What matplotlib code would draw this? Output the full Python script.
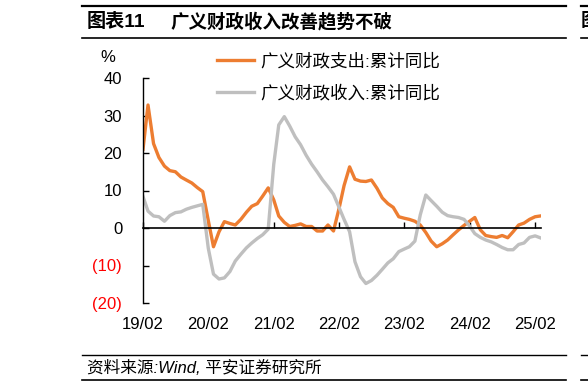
import matplotlib
matplotlib.use("Agg")
import matplotlib.pyplot as plt
import matplotlib.lines as mlines
import pandas as pd

plt.rcParams['font.family'] = ['Liberation Sans', 'Noto Sans CJK SC']
plt.rcParams['axes.unicode_minus'] = False

# 月度数据 19/02 - 25/03
spend = [21, 32.8, 22.5, 18.8, 16.5, 15.3, 15.0, 13.6, 12.8, 12.0, 10.8, 9.7,
         2.0, -5.0, -1.0, 1.7, 1.2, 0.8, 2.3, 4.2, 5.8, 6.5, 8.5, 10.7,
         7.5, 3.2, 1.5, 0.4, 0.7, 1.1, 0.4, 0.4, -0.8, -0.8, 0.8, -0.8,
         5.2, 11.3, 16.3, 13.0, 12.5, 12.4, 12.8, 10.6, 8.0, 6.5, 5.5, 3.0,
         2.6, 2.3, 1.8, 0.8, -1.2, -3.5, -5.0, -4.2, -3.2, -1.8, -0.5, 0.7,
         1.8, 2.8, -0.5, -2.0, -2.3, -2.5, -2.0, -2.6, -1.0, 0.8, 1.3, 2.3,
         3.0, 3.2]
revenue = [8.4, 4.5, 3.2, 3.0, 1.8, 3.3, 4.1, 4.3, 5.0, 5.5, 5.9, 6.3,
           -5.4, -12.3, -13.6, -13.3, -11.6, -8.8, -7.0, -5.3, -4.0, -2.8, -1.8, -0.3,
           17.0, 27.5, 29.7, 27.2, 24.3, 22.2, 19.4, 17.0, 15.0, 12.8, 11.0, 9.0,
           5.5, 2.3, -1.0, -9.0, -13.0, -14.8, -14.0, -12.6, -11.0, -9.3, -8.2, -6.3,
           -5.6, -5.0, -3.5, 3.5, 8.8, 7.3, 5.8, 4.2, 3.3, 3.0, 2.8, 2.3,
           0.5, -1.5, -2.5, -3.2, -3.7, -4.4, -5.2, -5.8, -5.8, -4.4, -4.0, -2.5,
           -2.1, -2.6]
months = pd.date_range("2019-02-01", periods=len(spend), freq="MS")

xtick_dates = pd.to_datetime(["2019-02-01", "2020-02-01", "2021-02-01", "2022-02-01",
                              "2023-02-01", "2024-02-01", "2025-02-01"])
xtick_labels = ["19/02", "20/02", "21/02", "22/02", "23/02", "24/02", "25/02"]
ytick_vals = [-20, -10, 0, 10, 20, 30, 40]
ytick_labels = ["(20)", "(10)", "0", "10", "20", "30", "40"]

W, H = 588, 386
fig = plt.figure(figsize=(5.88, 3.86), dpi=100)
ax = fig.add_axes([143 / W, 1 - 303 / H, (541 - 143) / W, 225 / H])

ax.plot(months, spend, color="#ED7D31", lw=2.4, label="广义财政支出:累计同比")
ax.plot(months, revenue, color="#BFBFBF", lw=2.4, label="广义财政收入:累计同比")

ax.set_ylim(-20, 40)
ax.set_xlim(months[0], months[-1] + pd.Timedelta(days=5))

ax.set_yticks(ytick_vals)
ax.set_yticklabels(ytick_labels, fontsize=12)
for lab, v in zip(ax.get_yticklabels(), ytick_vals):
    lab.set_color("red" if v < 0 else "black")
ax.tick_params(axis="y", direction="in", length=4, width=1, pad=15)

for s in ["top", "right"]:
    ax.spines[s].set_visible(False)
ax.spines["bottom"].set_position(("data", 0))
ax.spines["left"].set_linewidth(1)
ax.spines["bottom"].set_linewidth(1.2)

ax.set_xticks(xtick_dates)
ax.tick_params(axis="x", direction="in", length=4, width=1, labelbottom=False)

sec = ax.secondary_xaxis("bottom")
sec.set_xticks(xtick_dates)
sec.set_xticklabels(xtick_labels, fontsize=12)
sec.tick_params(length=0, pad=10)
sec.spines["bottom"].set_visible(False)

ax.legend(loc="upper left", bbox_to_anchor=(208 / W, 1 - 44 / H),
          bbox_transform=fig.transFigure, frameon=False, fontsize=12.6,
          borderpad=0, handlelength=2.1, handletextpad=0.4, labelspacing=0.85)

fig.text(108 / W, 1 - 57 / H, "%", ha="center", va="center", fontsize=12)

# 标题与边框线
fig.text(87 / W, 1 - 22 / H, "图表11", fontsize=13.8, fontweight="bold", va="center")
fig.text(170.5 / W, 1 - 22 / H, "广义财政收入改善趋势不破", fontsize=13.3,
         fontweight="bold", va="center")
fig.text(581 / W, 1 - 22 / H, "图", fontsize=13.3, fontweight="bold", va="center")
fig.text(87 / W, 1 - 368 / H, "资料来源:Wind, 平安证券研究所", fontsize=12,
         style="italic", va="center")

for y, lw in [(5.6, 1.6), (37.5, 1.2), (355, 1.0), (380, 1.2)]:
    for x0, x1 in [(82, 566), (581, 588)]:
        fig.add_artist(mlines.Line2D([x0 / W, x1 / W], [1 - y / H, 1 - y / H],
                                     color="black", lw=lw))

fig.savefig("out.png", dpi=100)
plt.close(fig)
